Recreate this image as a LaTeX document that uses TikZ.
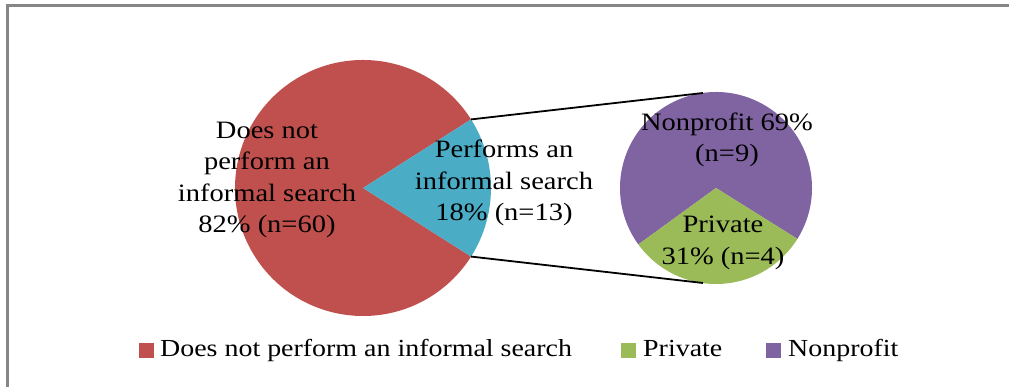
\documentclass[tikz,border=0pt]{standalone}
\usepackage{fontspec}
\usetikzlibrary{calc}
\setmainfont{Liberation Serif}[FakeStretch=1.14]
\definecolor{cred}{HTML}{C0504D}
\definecolor{cblue}{HTML}{4BACC6}
\definecolor{cgreen}{HTML}{9BBB59}
\definecolor{cpurple}{HTML}{8064A2}
\definecolor{frame}{HTML}{868686}
\tikzset{
  lbl/.style={align=center, font=\fontsize{25}{31.5}\selectfont, inner sep=0pt, text=black},
  legtxt/.style={anchor=base west, font=\fontsize{24.5}{28}\selectfont, inner sep=0pt},
  legsq/.style={minimum size=15pt, inner sep=0pt, anchor=south west},
  conn/.style={draw=black, line width=1.8pt}
}
\begin{document}
\begin{tikzpicture}[x=1pt,y=1pt]
\useasboundingbox (0,0) rectangle (1009,387);
% frame
\draw[frame, line width=2.2pt] (7.5,0) -- (7.5,381.5) -- (1009,381.5);
% main pie
\coordinate (c1) at (363,199);
\fill[cred] (c1) -- ++(32.4:128) arc[start angle=32.4, end angle=327.6, radius=128] -- cycle;
\fill[cblue] (c1) -- ++(-32.4:128) arc[start angle=-32.4, end angle=32.4, radius=128] -- cycle;
\coordinate (p1) at ($(c1)+(32.4:128)$);
\coordinate (p2) at ($(c1)+(-32.4:128)$);
% small pie
\coordinate (c2) at (716,199);
\fill[cpurple] (c2) -- ++(-32:96) arc[start angle=-32, end angle=216, radius=96] -- cycle;
\fill[cgreen] (c2) -- ++(-144:96) arc[start angle=-144, end angle=-32, radius=96] -- cycle;
\coordinate (q1) at (703,294);
\coordinate (q2) at (703,104);
% connectors
\draw[conn] (p1) -- (q1);
\draw[conn] (p2) -- (q2);
% labels
\node[lbl] (l1) at (267,207) {Does not\\perform an\\informal search\\82\% (n=60)};
\node[lbl] (l2) at (504,204) {Performs an\\informal search\\18\% (n=13)};
\node[lbl] (l3) at (727,247) {Nonprofit 69\%\\(n=9)};
\node[lbl] (l4) at (723,144) {Private\\31\% (n=4)};
% legend
\node[legsq, fill=cred] (s1) at (139,29) {};
\node[legtxt] (t1) at (160,30) {Does not perform an informal search};
\node[legsq, fill=cgreen] (s2) at (621,29) {};
\node[legtxt] (t2) at (643,30) {Private};
\node[legsq, fill=cpurple] (s3) at (766,29) {};
\node[legtxt] (t3) at (788,30) {Nonprofit};
\end{tikzpicture}
\end{document}
